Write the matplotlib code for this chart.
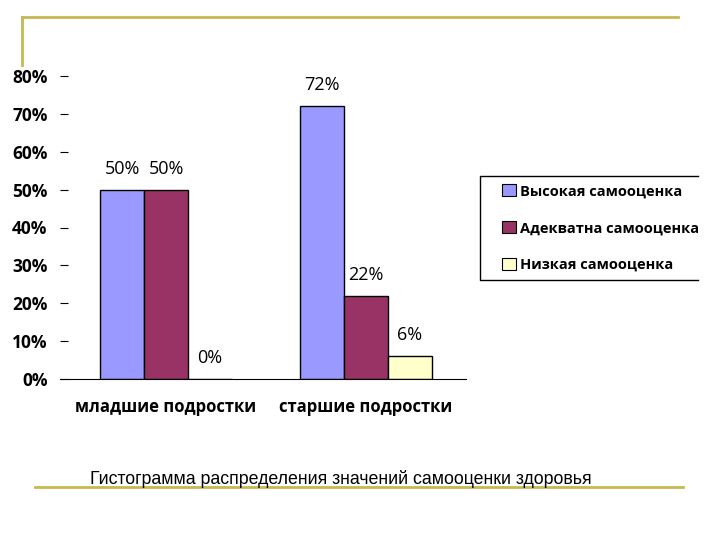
import numpy as np
import matplotlib.pyplot as plt
from matplotlib.lines import Line2D
from matplotlib.patches import Patch

categories = ["младшие подростки", "старшие подростки"]
series = ["Высокая самооценка", "Адекватна самооценка", "Низкая самооценка"]
high = [0.50, 0.72]
adequate = [0.50, 0.22]
low = [0.00, 0.06]
colors = ["#9999FF", "#993366", "#FFFFCC"]
yticks = [0, 0.1, 0.2, 0.3, 0.4, 0.5, 0.6, 0.7, 0.8]
caption = "Гистограмма распределения значений самооценки здоровья"

plt.rcParams['font.family'] = ['Open Sans', 'DejaVu Sans']

fig = plt.figure(figsize=(7.2, 5.4), dpi=100)

# decorative slide lines
fig.add_artist(Line2D([22/720, 678/720], [1-17/540, 1-17/540], color="#C8B850", lw=2))
fig.add_artist(Line2D([22/720, 22/720], [1-17/540, 1-65/540], color="#C8B850", lw=2))
fig.add_artist(Line2D([35/720, 683/720], [1-487/540, 1-487/540], color="#C8B850", lw=2))

ax = fig.add_axes([60/720, 1-379/540, 406/720, 303/540])
x = np.arange(len(categories))
w = 0.22
data = [high, adequate, low]
for i, vals in enumerate(data):
    ax.bar(x + (i-1)*w, vals, w, color=colors[i], edgecolor="black", lw=1)
    for xi, v in zip(x + (i-1)*w, vals):
        ax.text(xi, v + 0.055, f"{int(round(v*100))}%", ha="center", va="center", fontsize=13)

ax.set_xlim(-0.53, 1.5)
ax.set_ylim(0, 0.8)
ax.set_yticks(yticks)
ax.set_yticklabels([f"{int(round(t*100))}%" for t in yticks], fontsize=12.5, fontweight="bold")
ax.set_xticks(x)
ax.set_xticklabels(categories, fontsize=12, fontweight="bold")
ax.tick_params(axis="x", length=0, pad=14)
ax.tick_params(axis="y", length=6, direction="in", pad=9)
for s in ["top", "right", "left"]:
    ax.spines[s].set_visible(False)

# legend box, right side cut off as in the slide
bx0, bx1, by0, by1 = 480/720, 698/720, 1-280/540, 1-176/540
fig.add_artist(Line2D([bx1, bx0, bx0, bx1], [by1, by1, by0, by0], color="black", lw=1))
handles = [Patch(facecolor=c, edgecolor="black", lw=0.8) for c in colors]
leg = fig.legend(handles, series, loc="upper left", bbox_to_anchor=(498/720, 1-180/540),
                 fontsize=10.5, frameon=False, borderaxespad=0,
                 handlelength=0.9, handleheight=0.9, handletextpad=0.3,
                 labelspacing=1.55, borderpad=0.3)
for t in leg.get_texts():
    t.set_fontweight("bold")

fig.text(90/720, 1-479/540, caption, fontsize=12.8, family="Liberation Sans", va="center")

fig.savefig("out.png", dpi=100)
